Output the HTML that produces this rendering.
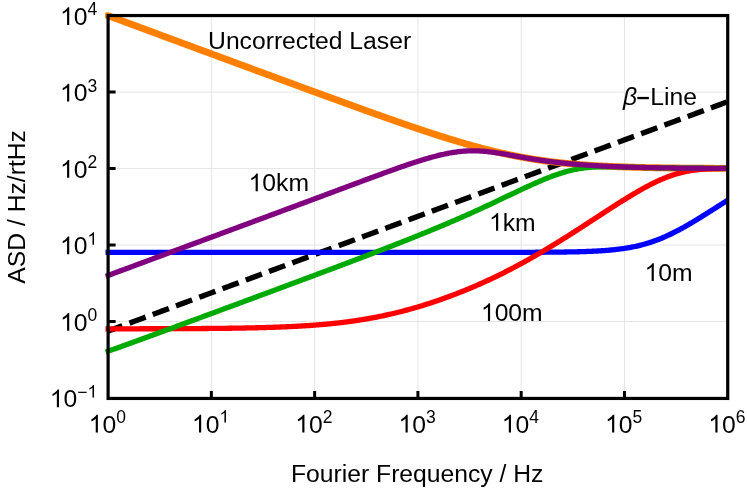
<!DOCTYPE html><html><head><meta charset="utf-8"><title>ASD plot</title>
<style>html,body{margin:0;padding:0;background:#fff;overflow:hidden}svg{display:block;will-change:transform}text{font-family:"Liberation Sans",sans-serif;fill:#000}</style></head><body>
<svg width="747" height="490" viewBox="0 0 747 490">
<rect width="747" height="490" fill="#fff"/>
<path d="M211.37,15.55V398.45M314.64,15.55V398.45M417.91,15.55V398.45M521.18,15.55V398.45M624.45,15.55V398.45M108.10,321.45H727.72M108.10,245.00H727.72M108.10,168.55H727.72M108.10,92.10H727.72" stroke="#e5e5e5" stroke-width="1" fill="none"/>
<defs><clipPath id="c"><rect x="105.1" y="12.2" width="622.62" height="392"/></clipPath></defs>
<g fill="none" stroke-linejoin="round" clip-path="url(#c)">
<path d="M108.10,331.02 L109.13,330.64 L110.17,330.26 L111.20,329.88 L112.23,329.49 L113.26,329.11 L114.30,328.73 L115.33,328.35 L116.36,327.97 L117.39,327.58 L118.43,327.20 L119.46,326.82 L120.49,326.44 L121.53,326.05 L122.56,325.67 L123.59,325.29 L124.62,324.91 L125.66,324.53 L126.69,324.14 L127.72,323.76 L128.75,323.38 L129.79,323.00 L130.82,322.61 L131.85,322.23 L132.88,321.85 L133.92,321.47 L134.95,321.09 L135.98,320.70 L137.02,320.32 L138.05,319.94 L139.08,319.56 L140.11,319.17 L141.15,318.79 L142.18,318.41 L143.21,318.03 L144.24,317.64 L145.28,317.26 L146.31,316.88 L147.34,316.50 L148.38,316.12 L149.41,315.73 L150.44,315.35 L151.47,314.97 L152.51,314.59 L153.54,314.20 L154.57,313.82 L155.60,313.44 L156.64,313.06 L157.67,312.68 L158.70,312.29 L159.73,311.91 L160.77,311.53 L161.80,311.15 L162.83,310.76 L163.87,310.38 L164.90,310.00 L165.93,309.62 L166.96,309.24 L168.00,308.85 L169.03,308.47 L170.06,308.09 L171.09,307.71 L172.13,307.32 L173.16,306.94 L174.19,306.56 L175.23,306.18 L176.26,305.80 L177.29,305.41 L178.32,305.03 L179.36,304.65 L180.39,304.27 L181.42,303.88 L182.45,303.50 L183.49,303.12 L184.52,302.74 L185.55,302.35 L186.59,301.97 L187.62,301.59 L188.65,301.21 L189.68,300.83 L190.72,300.44 L191.75,300.06 L192.78,299.68 L193.81,299.30 L194.85,298.91 L195.88,298.53 L196.91,298.15 L197.94,297.77 L198.98,297.39 L200.01,297.00 L201.04,296.62 L202.08,296.24 L203.11,295.86 L204.14,295.47 L205.17,295.09 L206.21,294.71 L207.24,294.33 L208.27,293.95 L209.30,293.56 L210.34,293.18 L211.37,292.80 L212.40,292.42 L213.44,292.03 L214.47,291.65 L215.50,291.27 L216.53,290.89 L217.57,290.51 L218.60,290.12 L219.63,289.74 L220.66,289.36 L221.70,288.98 L222.73,288.59 L223.76,288.21 L224.80,287.83 L225.83,287.45 L226.86,287.06 L227.89,286.68 L228.93,286.30 L229.96,285.92 L230.99,285.54 L232.02,285.15 L233.06,284.77 L234.09,284.39 L235.12,284.01 L236.15,283.62 L237.19,283.24 L238.22,282.86 L239.25,282.48 L240.29,282.10 L241.32,281.71 L242.35,281.33 L243.38,280.95 L244.42,280.57 L245.45,280.18 L246.48,279.80 L247.51,279.42 L248.55,279.04 L249.58,278.66 L250.61,278.27 L251.65,277.89 L252.68,277.51 L253.71,277.13 L254.74,276.74 L255.78,276.36 L256.81,275.98 L257.84,275.60 L258.87,275.22 L259.91,274.83 L260.94,274.45 L261.97,274.07 L263.00,273.69 L264.04,273.30 L265.07,272.92 L266.10,272.54 L267.14,272.16 L268.17,271.77 L269.20,271.39 L270.23,271.01 L271.27,270.63 L272.30,270.25 L273.33,269.86 L274.36,269.48 L275.40,269.10 L276.43,268.72 L277.46,268.33 L278.50,267.95 L279.53,267.57 L280.56,267.19 L281.59,266.81 L282.63,266.42 L283.66,266.04 L284.69,265.66 L285.72,265.28 L286.76,264.89 L287.79,264.51 L288.82,264.13 L289.86,263.75 L290.89,263.37 L291.92,262.98 L292.95,262.60 L293.99,262.22 L295.02,261.84 L296.05,261.45 L297.08,261.07 L298.12,260.69 L299.15,260.31 L300.18,259.93 L301.21,259.54 L302.25,259.16 L303.28,258.78 L304.31,258.40 L305.35,258.01 L306.38,257.63 L307.41,257.25 L308.44,256.87 L309.48,256.48 L310.51,256.10 L311.54,255.72 L312.57,255.34 L313.61,254.96 L314.64,254.57 L315.67,254.19 L316.71,253.81 L317.74,253.43 L318.77,253.04 L319.80,252.66 L320.84,252.28 L321.87,251.90 L322.90,251.52 L323.93,251.13 L324.97,250.75 L326.00,250.37 L327.03,249.99 L328.07,249.60 L329.10,249.22 L330.13,248.84 L331.16,248.46 L332.20,248.08 L333.23,247.69 L334.26,247.31 L335.29,246.93 L336.33,246.55 L337.36,246.16 L338.39,245.78 L339.42,245.40 L340.46,245.02 L341.49,244.64 L342.52,244.25 L343.56,243.87 L344.59,243.49 L345.62,243.11 L346.65,242.72 L347.69,242.34 L348.72,241.96 L349.75,241.58 L350.78,241.19 L351.82,240.81 L352.85,240.43 L353.88,240.05 L354.92,239.67 L355.95,239.28 L356.98,238.90 L358.01,238.52 L359.05,238.14 L360.08,237.75 L361.11,237.37 L362.14,236.99 L363.18,236.61 L364.21,236.23 L365.24,235.84 L366.27,235.46 L367.31,235.08 L368.34,234.70 L369.37,234.31 L370.41,233.93 L371.44,233.55 L372.47,233.17 L373.50,232.79 L374.54,232.40 L375.57,232.02 L376.60,231.64 L377.63,231.26 L378.67,230.87 L379.70,230.49 L380.73,230.11 L381.77,229.73 L382.80,229.35 L383.83,228.96 L384.86,228.58 L385.90,228.20 L386.93,227.82 L387.96,227.43 L388.99,227.05 L390.03,226.67 L391.06,226.29 L392.09,225.90 L393.13,225.52 L394.16,225.14 L395.19,224.76 L396.22,224.38 L397.26,223.99 L398.29,223.61 L399.32,223.23 L400.35,222.85 L401.39,222.46 L402.42,222.08 L403.45,221.70 L404.48,221.32 L405.52,220.94 L406.55,220.55 L407.58,220.17 L408.62,219.79 L409.65,219.41 L410.68,219.02 L411.71,218.64 L412.75,218.26 L413.78,217.88 L414.81,217.50 L415.84,217.11 L416.88,216.73 L417.91,216.35 L418.94,215.97 L419.98,215.58 L421.01,215.20 L422.04,214.82 L423.07,214.44 L424.11,214.06 L425.14,213.67 L426.17,213.29 L427.20,212.91 L428.24,212.53 L429.27,212.14 L430.30,211.76 L431.34,211.38 L432.37,211.00 L433.40,210.61 L434.43,210.23 L435.47,209.85 L436.50,209.47 L437.53,209.09 L438.56,208.70 L439.60,208.32 L440.63,207.94 L441.66,207.56 L442.69,207.17 L443.73,206.79 L444.76,206.41 L445.79,206.03 L446.83,205.65 L447.86,205.26 L448.89,204.88 L449.92,204.50 L450.96,204.12 L451.99,203.73 L453.02,203.35 L454.05,202.97 L455.09,202.59 L456.12,202.21 L457.15,201.82 L458.19,201.44 L459.22,201.06 L460.25,200.68 L461.28,200.29 L462.32,199.91 L463.35,199.53 L464.38,199.15 L465.41,198.77 L466.45,198.38 L467.48,198.00 L468.51,197.62 L469.54,197.24 L470.58,196.85 L471.61,196.47 L472.64,196.09 L473.68,195.71 L474.71,195.32 L475.74,194.94 L476.77,194.56 L477.81,194.18 L478.84,193.80 L479.87,193.41 L480.90,193.03 L481.94,192.65 L482.97,192.27 L484.00,191.88 L485.04,191.50 L486.07,191.12 L487.10,190.74 L488.13,190.36 L489.17,189.97 L490.20,189.59 L491.23,189.21 L492.26,188.83 L493.30,188.44 L494.33,188.06 L495.36,187.68 L496.40,187.30 L497.43,186.92 L498.46,186.53 L499.49,186.15 L500.53,185.77 L501.56,185.39 L502.59,185.00 L503.62,184.62 L504.66,184.24 L505.69,183.86 L506.72,183.48 L507.75,183.09 L508.79,182.71 L509.82,182.33 L510.85,181.95 L511.89,181.56 L512.92,181.18 L513.95,180.80 L514.98,180.42 L516.02,180.03 L517.05,179.65 L518.08,179.27 L519.11,178.89 L520.15,178.51 L521.18,178.12 L522.21,177.74 L523.25,177.36 L524.28,176.98 L525.31,176.59 L526.34,176.21 L527.38,175.83 L528.41,175.45 L529.44,175.07 L530.47,174.68 L531.51,174.30 L532.54,173.92 L533.57,173.54 L534.61,173.15 L535.64,172.77 L536.67,172.39 L537.70,172.01 L538.74,171.63 L539.77,171.24 L540.80,170.86 L541.83,170.48 L542.87,170.10 L543.90,169.71 L544.93,169.33 L545.96,168.95 L547.00,168.57 L548.03,168.19 L549.06,167.80 L550.10,167.42 L551.13,167.04 L552.16,166.66 L553.19,166.27 L554.23,165.89 L555.26,165.51 L556.29,165.13 L557.32,164.74 L558.36,164.36 L559.39,163.98 L560.42,163.60 L561.46,163.22 L562.49,162.83 L563.52,162.45 L564.55,162.07 L565.59,161.69 L566.62,161.30 L567.65,160.92 L568.68,160.54 L569.72,160.16 L570.75,159.78 L571.78,159.39 L572.81,159.01 L573.85,158.63 L574.88,158.25 L575.91,157.86 L576.95,157.48 L577.98,157.10 L579.01,156.72 L580.04,156.34 L581.08,155.95 L582.11,155.57 L583.14,155.19 L584.17,154.81 L585.21,154.42 L586.24,154.04 L587.27,153.66 L588.31,153.28 L589.34,152.90 L590.37,152.51 L591.40,152.13 L592.44,151.75 L593.47,151.37 L594.50,150.98 L595.53,150.60 L596.57,150.22 L597.60,149.84 L598.63,149.45 L599.67,149.07 L600.70,148.69 L601.73,148.31 L602.76,147.93 L603.80,147.54 L604.83,147.16 L605.86,146.78 L606.89,146.40 L607.93,146.01 L608.96,145.63 L609.99,145.25 L611.02,144.87 L612.06,144.49 L613.09,144.10 L614.12,143.72 L615.16,143.34 L616.19,142.96 L617.22,142.57 L618.25,142.19 L619.29,141.81 L620.32,141.43 L621.35,141.05 L622.38,140.66 L623.42,140.28 L624.45,139.90 L625.48,139.52 L626.52,139.13 L627.55,138.75 L628.58,138.37 L629.61,137.99 L630.65,137.61 L631.68,137.22 L632.71,136.84 L633.74,136.46 L634.78,136.08 L635.81,135.69 L636.84,135.31 L637.88,134.93 L638.91,134.55 L639.94,134.16 L640.97,133.78 L642.01,133.40 L643.04,133.02 L644.07,132.64 L645.10,132.25 L646.14,131.87 L647.17,131.49 L648.20,131.11 L649.23,130.72 L650.27,130.34 L651.30,129.96 L652.33,129.58 L653.37,129.20 L654.40,128.81 L655.43,128.43 L656.46,128.05 L657.50,127.67 L658.53,127.28 L659.56,126.90 L660.59,126.52 L661.63,126.14 L662.66,125.76 L663.69,125.37 L664.73,124.99 L665.76,124.61 L666.79,124.23 L667.82,123.84 L668.86,123.46 L669.89,123.08 L670.92,122.70 L671.95,122.32 L672.99,121.93 L674.02,121.55 L675.05,121.17 L676.09,120.79 L677.12,120.40 L678.15,120.02 L679.18,119.64 L680.22,119.26 L681.25,118.87 L682.28,118.49 L683.31,118.11 L684.35,117.73 L685.38,117.35 L686.41,116.96 L687.44,116.58 L688.48,116.20 L689.51,115.82 L690.54,115.43 L691.58,115.05 L692.61,114.67 L693.64,114.29 L694.67,113.91 L695.71,113.52 L696.74,113.14 L697.77,112.76 L698.80,112.38 L699.84,111.99 L700.87,111.61 L701.90,111.23 L702.94,110.85 L703.97,110.47 L705.00,110.08 L706.03,109.70 L707.07,109.32 L708.10,108.94 L709.13,108.55 L710.16,108.17 L711.20,107.79 L712.23,107.41 L713.26,107.03 L714.29,106.64 L715.33,106.26 L716.36,105.88 L717.39,105.50 L718.43,105.11 L719.46,104.73 L720.49,104.35 L721.52,103.97 L722.56,103.58 L723.59,103.20 L724.62,102.82 L725.65,102.44 L726.69,102.06 L727.72,101.67" stroke="#000000" stroke-width="5.4" stroke-dasharray="17.2 7.6" stroke-dashoffset="2"/>
<path d="M108.10,15.65 L109.13,16.03 L110.17,16.41 L111.20,16.79 L112.23,17.18 L113.26,17.56 L114.30,17.94 L115.33,18.32 L116.36,18.71 L117.39,19.09 L118.43,19.47 L119.46,19.85 L120.49,20.23 L121.53,20.62 L122.56,21.00 L123.59,21.38 L124.62,21.76 L125.66,22.15 L126.69,22.53 L127.72,22.91 L128.75,23.29 L129.79,23.67 L130.82,24.06 L131.85,24.44 L132.88,24.82 L133.92,25.20 L134.95,25.59 L135.98,25.97 L137.02,26.35 L138.05,26.73 L139.08,27.11 L140.11,27.50 L141.15,27.88 L142.18,28.26 L143.21,28.64 L144.24,29.03 L145.28,29.41 L146.31,29.79 L147.34,30.17 L148.38,30.55 L149.41,30.94 L150.44,31.32 L151.47,31.70 L152.51,32.08 L153.54,32.46 L154.57,32.85 L155.60,33.23 L156.64,33.61 L157.67,33.99 L158.70,34.38 L159.73,34.76 L160.77,35.14 L161.80,35.52 L162.83,35.90 L163.87,36.29 L164.90,36.67 L165.93,37.05 L166.96,37.43 L168.00,37.81 L169.03,38.20 L170.06,38.58 L171.09,38.96 L172.13,39.34 L173.16,39.72 L174.19,40.11 L175.23,40.49 L176.26,40.87 L177.29,41.25 L178.32,41.64 L179.36,42.02 L180.39,42.40 L181.42,42.78 L182.45,43.16 L183.49,43.55 L184.52,43.93 L185.55,44.31 L186.59,44.69 L187.62,45.07 L188.65,45.46 L189.68,45.84 L190.72,46.22 L191.75,46.60 L192.78,46.98 L193.81,47.37 L194.85,47.75 L195.88,48.13 L196.91,48.51 L197.94,48.89 L198.98,49.28 L200.01,49.66 L201.04,50.04 L202.08,50.42 L203.11,50.80 L204.14,51.19 L205.17,51.57 L206.21,51.95 L207.24,52.33 L208.27,52.71 L209.30,53.09 L210.34,53.48 L211.37,53.86 L212.40,54.24 L213.44,54.62 L214.47,55.00 L215.50,55.39 L216.53,55.77 L217.57,56.15 L218.60,56.53 L219.63,56.91 L220.66,57.29 L221.70,57.68 L222.73,58.06 L223.76,58.44 L224.80,58.82 L225.83,59.20 L226.86,59.59 L227.89,59.97 L228.93,60.35 L229.96,60.73 L230.99,61.11 L232.02,61.49 L233.06,61.88 L234.09,62.26 L235.12,62.64 L236.15,63.02 L237.19,63.40 L238.22,63.78 L239.25,64.16 L240.29,64.55 L241.32,64.93 L242.35,65.31 L243.38,65.69 L244.42,66.07 L245.45,66.45 L246.48,66.84 L247.51,67.22 L248.55,67.60 L249.58,67.98 L250.61,68.36 L251.65,68.74 L252.68,69.12 L253.71,69.50 L254.74,69.89 L255.78,70.27 L256.81,70.65 L257.84,71.03 L258.87,71.41 L259.91,71.79 L260.94,72.17 L261.97,72.55 L263.00,72.94 L264.04,73.32 L265.07,73.70 L266.10,74.08 L267.14,74.46 L268.17,74.84 L269.20,75.22 L270.23,75.60 L271.27,75.98 L272.30,76.36 L273.33,76.74 L274.36,77.12 L275.40,77.51 L276.43,77.89 L277.46,78.27 L278.50,78.65 L279.53,79.03 L280.56,79.41 L281.59,79.79 L282.63,80.17 L283.66,80.55 L284.69,80.93 L285.72,81.31 L286.76,81.69 L287.79,82.07 L288.82,82.45 L289.86,82.83 L290.89,83.21 L291.92,83.59 L292.95,83.97 L293.99,84.35 L295.02,84.73 L296.05,85.11 L297.08,85.49 L298.12,85.87 L299.15,86.25 L300.18,86.63 L301.21,87.01 L302.25,87.39 L303.28,87.77 L304.31,88.15 L305.35,88.53 L306.38,88.90 L307.41,89.28 L308.44,89.66 L309.48,90.04 L310.51,90.42 L311.54,90.80 L312.57,91.18 L313.61,91.56 L314.64,91.93 L315.67,92.31 L316.71,92.69 L317.74,93.07 L318.77,93.45 L319.80,93.83 L320.84,94.20 L321.87,94.58 L322.90,94.96 L323.93,95.34 L324.97,95.71 L326.00,96.09 L327.03,96.47 L328.07,96.85 L329.10,97.22 L330.13,97.60 L331.16,97.98 L332.20,98.35 L333.23,98.73 L334.26,99.11 L335.29,99.48 L336.33,99.86 L337.36,100.24 L338.39,100.61 L339.42,100.99 L340.46,101.36 L341.49,101.74 L342.52,102.11 L343.56,102.49 L344.59,102.86 L345.62,103.24 L346.65,103.61 L347.69,103.99 L348.72,104.36 L349.75,104.74 L350.78,105.11 L351.82,105.48 L352.85,105.86 L353.88,106.23 L354.92,106.61 L355.95,106.98 L356.98,107.35 L358.01,107.72 L359.05,108.10 L360.08,108.47 L361.11,108.84 L362.14,109.21 L363.18,109.58 L364.21,109.95 L365.24,110.33 L366.27,110.70 L367.31,111.07 L368.34,111.44 L369.37,111.81 L370.41,112.18 L371.44,112.54 L372.47,112.91 L373.50,113.28 L374.54,113.65 L375.57,114.02 L376.60,114.39 L377.63,114.75 L378.67,115.12 L379.70,115.49 L380.73,115.85 L381.77,116.22 L382.80,116.59 L383.83,116.95 L384.86,117.32 L385.90,117.68 L386.93,118.05 L387.96,118.41 L388.99,118.77 L390.03,119.14 L391.06,119.50 L392.09,119.86 L393.13,120.22 L394.16,120.58 L395.19,120.94 L396.22,121.30 L397.26,121.66 L398.29,122.02 L399.32,122.38 L400.35,122.74 L401.39,123.10 L402.42,123.46 L403.45,123.81 L404.48,124.17 L405.52,124.52 L406.55,124.88 L407.58,125.23 L408.62,125.59 L409.65,125.94 L410.68,126.29 L411.71,126.65 L412.75,127.00 L413.78,127.35 L414.81,127.70 L415.84,128.05 L416.88,128.39 L417.91,128.74 L418.94,129.09 L419.98,129.44 L421.01,129.78 L422.04,130.13 L423.07,130.47 L424.11,130.81 L425.14,131.16 L426.17,131.50 L427.20,131.84 L428.24,132.18 L429.27,132.52 L430.30,132.86 L431.34,133.19 L432.37,133.53 L433.40,133.87 L434.43,134.20 L435.47,134.53 L436.50,134.87 L437.53,135.20 L438.56,135.53 L439.60,135.86 L440.63,136.19 L441.66,136.51 L442.69,136.84 L443.73,137.16 L444.76,137.49 L445.79,137.81 L446.83,138.13 L447.86,138.45 L448.89,138.77 L449.92,139.09 L450.96,139.41 L451.99,139.72 L453.02,140.04 L454.05,140.35 L455.09,140.66 L456.12,140.97 L457.15,141.28 L458.19,141.59 L459.22,141.89 L460.25,142.20 L461.28,142.50 L462.32,142.80 L463.35,143.11 L464.38,143.40 L465.41,143.70 L466.45,144.00 L467.48,144.29 L468.51,144.58 L469.54,144.88 L470.58,145.17 L471.61,145.45 L472.64,145.74 L473.68,146.02 L474.71,146.31 L475.74,146.59 L476.77,146.87 L477.81,147.15 L478.84,147.42 L479.87,147.70 L480.90,147.97 L481.94,148.24 L482.97,148.51 L484.00,148.78 L485.04,149.04 L486.07,149.30 L487.10,149.57 L488.13,149.83 L489.17,150.08 L490.20,150.34 L491.23,150.59 L492.26,150.84 L493.30,151.09 L494.33,151.34 L495.36,151.59 L496.40,151.83 L497.43,152.07 L498.46,152.31 L499.49,152.55 L500.53,152.78 L501.56,153.02 L502.59,153.25 L503.62,153.48 L504.66,153.71 L505.69,153.93 L506.72,154.15 L507.75,154.37 L508.79,154.59 L509.82,154.81 L510.85,155.02 L511.89,155.23 L512.92,155.44 L513.95,155.65 L514.98,155.86 L516.02,156.06 L517.05,156.26 L518.08,156.46 L519.11,156.66 L520.15,156.85 L521.18,157.04 L522.21,157.23 L523.25,157.42 L524.28,157.61 L525.31,157.79 L526.34,157.97 L527.38,158.15 L528.41,158.33 L529.44,158.50 L530.47,158.67 L531.51,158.84 L532.54,159.01 L533.57,159.18 L534.61,159.34 L535.64,159.50 L536.67,159.66 L537.70,159.82 L538.74,159.98 L539.77,160.13 L540.80,160.28 L541.83,160.43 L542.87,160.58 L543.90,160.72 L544.93,160.86 L545.96,161.00 L547.00,161.14 L548.03,161.28 L549.06,161.41 L550.10,161.55 L551.13,161.68 L552.16,161.81 L553.19,161.93 L554.23,162.06 L555.26,162.18 L556.29,162.30 L557.32,162.42 L558.36,162.54 L559.39,162.65 L560.42,162.77 L561.46,162.88 L562.49,162.99 L563.52,163.09 L564.55,163.20 L565.59,163.31 L566.62,163.41 L567.65,163.51 L568.68,163.61 L569.72,163.71 L570.75,163.80 L571.78,163.90 L572.81,163.99 L573.85,164.08 L574.88,164.17 L575.91,164.26 L576.95,164.34 L577.98,164.43 L579.01,164.51 L580.04,164.59 L581.08,164.67 L582.11,164.75 L583.14,164.83 L584.17,164.91 L585.21,164.98 L586.24,165.05 L587.27,165.13 L588.31,165.20 L589.34,165.27 L590.37,165.33 L591.40,165.40 L592.44,165.47 L593.47,165.53 L594.50,165.59 L595.53,165.65 L596.57,165.72 L597.60,165.77 L598.63,165.83 L599.67,165.89 L600.70,165.95 L601.73,166.00 L602.76,166.05 L603.80,166.11 L604.83,166.16 L605.86,166.21 L606.89,166.26 L607.93,166.31 L608.96,166.36 L609.99,166.40 L611.02,166.45 L612.06,166.49 L613.09,166.54 L614.12,166.58 L615.16,166.62 L616.19,166.67 L617.22,166.71 L618.25,166.75 L619.29,166.78 L620.32,166.82 L621.35,166.86 L622.38,166.90 L623.42,166.93 L624.45,166.97 L625.48,167.00 L626.52,167.04 L627.55,167.07 L628.58,167.10 L629.61,167.13 L630.65,167.16 L631.68,167.19 L632.71,167.22 L633.74,167.25 L634.78,167.28 L635.81,167.31 L636.84,167.34 L637.88,167.36 L638.91,167.39 L639.94,167.41 L640.97,167.44 L642.01,167.46 L643.04,167.49 L644.07,167.51 L645.10,167.53 L646.14,167.56 L647.17,167.58 L648.20,167.60 L649.23,167.62 L650.27,167.64 L651.30,167.66 L652.33,167.68 L653.37,167.70 L654.40,167.72 L655.43,167.74 L656.46,167.76 L657.50,167.77 L658.53,167.79 L659.56,167.81 L660.59,167.82 L661.63,167.84 L662.66,167.86 L663.69,167.87 L664.73,167.89 L665.76,167.90 L666.79,167.92 L667.82,167.93 L668.86,167.94 L669.89,167.96 L670.92,167.97 L671.95,167.98 L672.99,168.00 L674.02,168.01 L675.05,168.02 L676.09,168.03 L677.12,168.04 L678.15,168.06 L679.18,168.07 L680.22,168.08 L681.25,168.09 L682.28,168.10 L683.31,168.11 L684.35,168.12 L685.38,168.13 L686.41,168.14 L687.44,168.15 L688.48,168.16 L689.51,168.17 L690.54,168.17 L691.58,168.18 L692.61,168.19 L693.64,168.20 L694.67,168.21 L695.71,168.21 L696.74,168.22 L697.77,168.23 L698.80,168.24 L699.84,168.24 L700.87,168.25 L701.90,168.26 L702.94,168.26 L703.97,168.27 L705.00,168.28 L706.03,168.28 L707.07,168.29 L708.10,168.29 L709.13,168.30 L710.16,168.31 L711.20,168.31 L712.23,168.32 L713.26,168.32 L714.29,168.33 L715.33,168.33 L716.36,168.34 L717.39,168.34 L718.43,168.35 L719.46,168.35 L720.49,168.36 L721.52,168.36 L722.56,168.36 L723.59,168.37 L724.62,168.37 L725.65,168.38 L726.69,168.38 L727.72,168.38" stroke="#ff8000" stroke-width="6.9" stroke-linecap="square"/>
<path d="M108.10,252.41 L109.13,252.41 L110.17,252.41 L111.20,252.41 L112.23,252.41 L113.26,252.41 L114.30,252.41 L115.33,252.41 L116.36,252.41 L117.39,252.41 L118.43,252.41 L119.46,252.41 L120.49,252.41 L121.53,252.41 L122.56,252.41 L123.59,252.41 L124.62,252.41 L125.66,252.41 L126.69,252.41 L127.72,252.41 L128.75,252.41 L129.79,252.41 L130.82,252.41 L131.85,252.41 L132.88,252.41 L133.92,252.41 L134.95,252.41 L135.98,252.41 L137.02,252.41 L138.05,252.41 L139.08,252.41 L140.11,252.41 L141.15,252.41 L142.18,252.41 L143.21,252.41 L144.24,252.41 L145.28,252.41 L146.31,252.41 L147.34,252.41 L148.38,252.41 L149.41,252.41 L150.44,252.41 L151.47,252.41 L152.51,252.41 L153.54,252.41 L154.57,252.41 L155.60,252.41 L156.64,252.41 L157.67,252.41 L158.70,252.41 L159.73,252.41 L160.77,252.41 L161.80,252.41 L162.83,252.41 L163.87,252.41 L164.90,252.41 L165.93,252.41 L166.96,252.41 L168.00,252.41 L169.03,252.41 L170.06,252.41 L171.09,252.41 L172.13,252.41 L173.16,252.41 L174.19,252.41 L175.23,252.41 L176.26,252.41 L177.29,252.41 L178.32,252.41 L179.36,252.41 L180.39,252.41 L181.42,252.41 L182.45,252.41 L183.49,252.41 L184.52,252.41 L185.55,252.41 L186.59,252.41 L187.62,252.41 L188.65,252.41 L189.68,252.41 L190.72,252.41 L191.75,252.41 L192.78,252.41 L193.81,252.41 L194.85,252.41 L195.88,252.41 L196.91,252.41 L197.94,252.41 L198.98,252.41 L200.01,252.41 L201.04,252.41 L202.08,252.41 L203.11,252.41 L204.14,252.41 L205.17,252.41 L206.21,252.41 L207.24,252.41 L208.27,252.41 L209.30,252.41 L210.34,252.41 L211.37,252.41 L212.40,252.41 L213.44,252.41 L214.47,252.41 L215.50,252.41 L216.53,252.41 L217.57,252.41 L218.60,252.41 L219.63,252.41 L220.66,252.41 L221.70,252.41 L222.73,252.41 L223.76,252.41 L224.80,252.41 L225.83,252.41 L226.86,252.41 L227.89,252.41 L228.93,252.41 L229.96,252.41 L230.99,252.41 L232.02,252.41 L233.06,252.41 L234.09,252.41 L235.12,252.41 L236.15,252.41 L237.19,252.41 L238.22,252.41 L239.25,252.41 L240.29,252.41 L241.32,252.41 L242.35,252.41 L243.38,252.41 L244.42,252.41 L245.45,252.41 L246.48,252.41 L247.51,252.41 L248.55,252.41 L249.58,252.41 L250.61,252.41 L251.65,252.41 L252.68,252.41 L253.71,252.41 L254.74,252.41 L255.78,252.41 L256.81,252.41 L257.84,252.41 L258.87,252.41 L259.91,252.41 L260.94,252.41 L261.97,252.41 L263.00,252.41 L264.04,252.41 L265.07,252.41 L266.10,252.41 L267.14,252.41 L268.17,252.41 L269.20,252.41 L270.23,252.41 L271.27,252.41 L272.30,252.41 L273.33,252.41 L274.36,252.41 L275.40,252.41 L276.43,252.41 L277.46,252.41 L278.50,252.41 L279.53,252.41 L280.56,252.41 L281.59,252.41 L282.63,252.41 L283.66,252.41 L284.69,252.41 L285.72,252.41 L286.76,252.41 L287.79,252.41 L288.82,252.41 L289.86,252.41 L290.89,252.41 L291.92,252.41 L292.95,252.41 L293.99,252.41 L295.02,252.41 L296.05,252.41 L297.08,252.41 L298.12,252.41 L299.15,252.41 L300.18,252.41 L301.21,252.41 L302.25,252.41 L303.28,252.41 L304.31,252.41 L305.35,252.41 L306.38,252.41 L307.41,252.41 L308.44,252.41 L309.48,252.41 L310.51,252.41 L311.54,252.41 L312.57,252.41 L313.61,252.41 L314.64,252.41 L315.67,252.41 L316.71,252.41 L317.74,252.41 L318.77,252.41 L319.80,252.41 L320.84,252.41 L321.87,252.41 L322.90,252.41 L323.93,252.41 L324.97,252.41 L326.00,252.41 L327.03,252.41 L328.07,252.41 L329.10,252.41 L330.13,252.41 L331.16,252.41 L332.20,252.41 L333.23,252.41 L334.26,252.41 L335.29,252.41 L336.33,252.41 L337.36,252.41 L338.39,252.41 L339.42,252.41 L340.46,252.41 L341.49,252.41 L342.52,252.41 L343.56,252.41 L344.59,252.41 L345.62,252.41 L346.65,252.41 L347.69,252.41 L348.72,252.41 L349.75,252.41 L350.78,252.41 L351.82,252.41 L352.85,252.41 L353.88,252.41 L354.92,252.41 L355.95,252.41 L356.98,252.41 L358.01,252.41 L359.05,252.41 L360.08,252.41 L361.11,252.41 L362.14,252.41 L363.18,252.41 L364.21,252.41 L365.24,252.41 L366.27,252.41 L367.31,252.41 L368.34,252.41 L369.37,252.41 L370.41,252.41 L371.44,252.41 L372.47,252.41 L373.50,252.41 L374.54,252.41 L375.57,252.41 L376.60,252.41 L377.63,252.41 L378.67,252.41 L379.70,252.41 L380.73,252.41 L381.77,252.41 L382.80,252.41 L383.83,252.41 L384.86,252.41 L385.90,252.41 L386.93,252.41 L387.96,252.41 L388.99,252.41 L390.03,252.41 L391.06,252.41 L392.09,252.41 L393.13,252.41 L394.16,252.41 L395.19,252.41 L396.22,252.41 L397.26,252.41 L398.29,252.41 L399.32,252.41 L400.35,252.41 L401.39,252.41 L402.42,252.41 L403.45,252.41 L404.48,252.41 L405.52,252.41 L406.55,252.41 L407.58,252.41 L408.62,252.41 L409.65,252.41 L410.68,252.40 L411.71,252.40 L412.75,252.40 L413.78,252.40 L414.81,252.40 L415.84,252.40 L416.88,252.40 L417.91,252.40 L418.94,252.40 L419.98,252.40 L421.01,252.40 L422.04,252.40 L423.07,252.40 L424.11,252.40 L425.14,252.40 L426.17,252.40 L427.20,252.40 L428.24,252.40 L429.27,252.40 L430.30,252.40 L431.34,252.40 L432.37,252.40 L433.40,252.40 L434.43,252.40 L435.47,252.40 L436.50,252.40 L437.53,252.40 L438.56,252.40 L439.60,252.40 L440.63,252.40 L441.66,252.40 L442.69,252.40 L443.73,252.40 L444.76,252.40 L445.79,252.40 L446.83,252.40 L447.86,252.40 L448.89,252.40 L449.92,252.40 L450.96,252.40 L451.99,252.40 L453.02,252.40 L454.05,252.40 L455.09,252.40 L456.12,252.40 L457.15,252.40 L458.19,252.40 L459.22,252.40 L460.25,252.40 L461.28,252.39 L462.32,252.39 L463.35,252.39 L464.38,252.39 L465.41,252.39 L466.45,252.39 L467.48,252.39 L468.51,252.39 L469.54,252.39 L470.58,252.39 L471.61,252.39 L472.64,252.39 L473.68,252.39 L474.71,252.39 L475.74,252.39 L476.77,252.39 L477.81,252.39 L478.84,252.39 L479.87,252.39 L480.90,252.38 L481.94,252.38 L482.97,252.38 L484.00,252.38 L485.04,252.38 L486.07,252.38 L487.10,252.38 L488.13,252.38 L489.17,252.38 L490.20,252.38 L491.23,252.38 L492.26,252.38 L493.30,252.37 L494.33,252.37 L495.36,252.37 L496.40,252.37 L497.43,252.37 L498.46,252.37 L499.49,252.37 L500.53,252.37 L501.56,252.36 L502.59,252.36 L503.62,252.36 L504.66,252.36 L505.69,252.36 L506.72,252.36 L507.75,252.36 L508.79,252.35 L509.82,252.35 L510.85,252.35 L511.89,252.35 L512.92,252.35 L513.95,252.34 L514.98,252.34 L516.02,252.34 L517.05,252.34 L518.08,252.33 L519.11,252.33 L520.15,252.33 L521.18,252.33 L522.21,252.32 L523.25,252.32 L524.28,252.32 L525.31,252.31 L526.34,252.31 L527.38,252.31 L528.41,252.30 L529.44,252.30 L530.47,252.30 L531.51,252.29 L532.54,252.29 L533.57,252.28 L534.61,252.28 L535.64,252.27 L536.67,252.27 L537.70,252.26 L538.74,252.26 L539.77,252.25 L540.80,252.25 L541.83,252.24 L542.87,252.23 L543.90,252.23 L544.93,252.22 L545.96,252.21 L547.00,252.20 L548.03,252.20 L549.06,252.19 L550.10,252.18 L551.13,252.17 L552.16,252.16 L553.19,252.15 L554.23,252.14 L555.26,252.13 L556.29,252.12 L557.32,252.11 L558.36,252.10 L559.39,252.09 L560.42,252.07 L561.46,252.06 L562.49,252.05 L563.52,252.03 L564.55,252.02 L565.59,252.00 L566.62,251.99 L567.65,251.97 L568.68,251.95 L569.72,251.93 L570.75,251.91 L571.78,251.89 L572.81,251.87 L573.85,251.85 L574.88,251.83 L575.91,251.80 L576.95,251.78 L577.98,251.75 L579.01,251.73 L580.04,251.70 L581.08,251.67 L582.11,251.64 L583.14,251.61 L584.17,251.57 L585.21,251.54 L586.24,251.50 L587.27,251.46 L588.31,251.43 L589.34,251.38 L590.37,251.34 L591.40,251.30 L592.44,251.25 L593.47,251.20 L594.50,251.15 L595.53,251.10 L596.57,251.05 L597.60,250.99 L598.63,250.93 L599.67,250.87 L600.70,250.81 L601.73,250.74 L602.76,250.67 L603.80,250.60 L604.83,250.52 L605.86,250.45 L606.89,250.36 L607.93,250.28 L608.96,250.19 L609.99,250.10 L611.02,250.01 L612.06,249.91 L613.09,249.80 L614.12,249.70 L615.16,249.59 L616.19,249.47 L617.22,249.35 L618.25,249.23 L619.29,249.10 L620.32,248.97 L621.35,248.83 L622.38,248.68 L623.42,248.54 L624.45,248.38 L625.48,248.22 L626.52,248.06 L627.55,247.88 L628.58,247.71 L629.61,247.52 L630.65,247.33 L631.68,247.14 L632.71,246.94 L633.74,246.73 L634.78,246.51 L635.81,246.29 L636.84,246.06 L637.88,245.82 L638.91,245.57 L639.94,245.32 L640.97,245.06 L642.01,244.79 L643.04,244.52 L644.07,244.24 L645.10,243.95 L646.14,243.65 L647.17,243.34 L648.20,243.02 L649.23,242.70 L650.27,242.37 L651.30,242.03 L652.33,241.68 L653.37,241.32 L654.40,240.96 L655.43,240.58 L656.46,240.20 L657.50,239.81 L658.53,239.41 L659.56,239.01 L660.59,238.59 L661.63,238.17 L662.66,237.73 L663.69,237.29 L664.73,236.85 L665.76,236.39 L666.79,235.93 L667.82,235.46 L668.86,234.98 L669.89,234.49 L670.92,234.00 L671.95,233.50 L672.99,232.99 L674.02,232.47 L675.05,231.95 L676.09,231.42 L677.12,230.89 L678.15,230.34 L679.18,229.80 L680.22,229.24 L681.25,228.68 L682.28,228.12 L683.31,227.55 L684.35,226.97 L685.38,226.39 L686.41,225.80 L687.44,225.21 L688.48,224.61 L689.51,224.01 L690.54,223.41 L691.58,222.80 L692.61,222.18 L693.64,221.57 L694.67,220.94 L695.71,220.32 L696.74,219.69 L697.77,219.06 L698.80,218.43 L699.84,217.79 L700.87,217.16 L701.90,216.52 L702.94,215.87 L703.97,215.23 L705.00,214.58 L706.03,213.93 L707.07,213.28 L708.10,212.63 L709.13,211.98 L710.16,211.33 L711.20,210.67 L712.23,210.02 L713.26,209.36 L714.29,208.71 L715.33,208.05 L716.36,207.40 L717.39,206.74 L718.43,206.08 L719.46,205.43 L720.49,204.78 L721.52,204.12 L722.56,203.47 L723.59,202.82 L724.62,202.17 L725.65,201.52 L726.69,200.88 L727.72,200.23" stroke="#0000ff" stroke-width="5.3" stroke-linecap="square"/>
<path d="M108.10,328.82 L109.13,328.82 L110.17,328.82 L111.20,328.81 L112.23,328.81 L113.26,328.81 L114.30,328.81 L115.33,328.81 L116.36,328.81 L117.39,328.81 L118.43,328.81 L119.46,328.81 L120.49,328.80 L121.53,328.80 L122.56,328.80 L123.59,328.80 L124.62,328.80 L125.66,328.80 L126.69,328.80 L127.72,328.79 L128.75,328.79 L129.79,328.79 L130.82,328.79 L131.85,328.79 L132.88,328.79 L133.92,328.79 L134.95,328.78 L135.98,328.78 L137.02,328.78 L138.05,328.78 L139.08,328.78 L140.11,328.77 L141.15,328.77 L142.18,328.77 L143.21,328.77 L144.24,328.77 L145.28,328.76 L146.31,328.76 L147.34,328.76 L148.38,328.76 L149.41,328.75 L150.44,328.75 L151.47,328.75 L152.51,328.75 L153.54,328.74 L154.57,328.74 L155.60,328.74 L156.64,328.74 L157.67,328.73 L158.70,328.73 L159.73,328.73 L160.77,328.72 L161.80,328.72 L162.83,328.72 L163.87,328.72 L164.90,328.71 L165.93,328.71 L166.96,328.71 L168.00,328.70 L169.03,328.70 L170.06,328.69 L171.09,328.69 L172.13,328.69 L173.16,328.68 L174.19,328.68 L175.23,328.67 L176.26,328.67 L177.29,328.67 L178.32,328.66 L179.36,328.66 L180.39,328.65 L181.42,328.65 L182.45,328.64 L183.49,328.64 L184.52,328.63 L185.55,328.63 L186.59,328.62 L187.62,328.62 L188.65,328.61 L189.68,328.60 L190.72,328.60 L191.75,328.59 L192.78,328.59 L193.81,328.58 L194.85,328.57 L195.88,328.57 L196.91,328.56 L197.94,328.55 L198.98,328.55 L200.01,328.54 L201.04,328.53 L202.08,328.52 L203.11,328.52 L204.14,328.51 L205.17,328.50 L206.21,328.49 L207.24,328.48 L208.27,328.48 L209.30,328.47 L210.34,328.46 L211.37,328.45 L212.40,328.44 L213.44,328.43 L214.47,328.42 L215.50,328.41 L216.53,328.40 L217.57,328.39 L218.60,328.38 L219.63,328.37 L220.66,328.36 L221.70,328.34 L222.73,328.33 L223.76,328.32 L224.80,328.31 L225.83,328.29 L226.86,328.28 L227.89,328.27 L228.93,328.26 L229.96,328.24 L230.99,328.23 L232.02,328.21 L233.06,328.20 L234.09,328.18 L235.12,328.17 L236.15,328.15 L237.19,328.14 L238.22,328.12 L239.25,328.10 L240.29,328.08 L241.32,328.07 L242.35,328.05 L243.38,328.03 L244.42,328.01 L245.45,327.99 L246.48,327.97 L247.51,327.95 L248.55,327.93 L249.58,327.91 L250.61,327.89 L251.65,327.87 L252.68,327.85 L253.71,327.82 L254.74,327.80 L255.78,327.77 L256.81,327.75 L257.84,327.73 L258.87,327.70 L259.91,327.67 L260.94,327.65 L261.97,327.62 L263.00,327.59 L264.04,327.56 L265.07,327.53 L266.10,327.50 L267.14,327.47 L268.17,327.44 L269.20,327.41 L270.23,327.38 L271.27,327.35 L272.30,327.31 L273.33,327.28 L274.36,327.24 L275.40,327.21 L276.43,327.17 L277.46,327.13 L278.50,327.09 L279.53,327.05 L280.56,327.01 L281.59,326.97 L282.63,326.93 L283.66,326.89 L284.69,326.85 L285.72,326.80 L286.76,326.76 L287.79,326.71 L288.82,326.66 L289.86,326.62 L290.89,326.57 L291.92,326.52 L292.95,326.47 L293.99,326.41 L295.02,326.36 L296.05,326.31 L297.08,326.25 L298.12,326.19 L299.15,326.14 L300.18,326.08 L301.21,326.02 L302.25,325.96 L303.28,325.89 L304.31,325.83 L305.35,325.76 L306.38,325.70 L307.41,325.63 L308.44,325.56 L309.48,325.49 L310.51,325.42 L311.54,325.35 L312.57,325.27 L313.61,325.20 L314.64,325.12 L315.67,325.04 L316.71,324.96 L317.74,324.88 L318.77,324.80 L319.80,324.71 L320.84,324.63 L321.87,324.54 L322.90,324.45 L323.93,324.36 L324.97,324.27 L326.00,324.17 L327.03,324.08 L328.07,323.98 L329.10,323.88 L330.13,323.78 L331.16,323.67 L332.20,323.57 L333.23,323.46 L334.26,323.35 L335.29,323.24 L336.33,323.13 L337.36,323.02 L338.39,322.90 L339.42,322.78 L340.46,322.66 L341.49,322.54 L342.52,322.42 L343.56,322.29 L344.59,322.16 L345.62,322.03 L346.65,321.90 L347.69,321.76 L348.72,321.63 L349.75,321.49 L350.78,321.35 L351.82,321.20 L352.85,321.06 L353.88,320.91 L354.92,320.76 L355.95,320.61 L356.98,320.45 L358.01,320.30 L359.05,320.14 L360.08,319.98 L361.11,319.81 L362.14,319.65 L363.18,319.48 L364.21,319.31 L365.24,319.13 L366.27,318.96 L367.31,318.78 L368.34,318.60 L369.37,318.42 L370.41,318.23 L371.44,318.04 L372.47,317.85 L373.50,317.66 L374.54,317.46 L375.57,317.27 L376.60,317.06 L377.63,316.86 L378.67,316.66 L379.70,316.45 L380.73,316.24 L381.77,316.02 L382.80,315.81 L383.83,315.59 L384.86,315.37 L385.90,315.14 L386.93,314.92 L387.96,314.69 L388.99,314.46 L390.03,314.22 L391.06,313.99 L392.09,313.75 L393.13,313.51 L394.16,313.26 L395.19,313.01 L396.22,312.76 L397.26,312.51 L398.29,312.26 L399.32,312.00 L400.35,311.74 L401.39,311.48 L402.42,311.21 L403.45,310.94 L404.48,310.67 L405.52,310.40 L406.55,310.12 L407.58,309.84 L408.62,309.56 L409.65,309.28 L410.68,308.99 L411.71,308.70 L412.75,308.41 L413.78,308.12 L414.81,307.82 L415.84,307.52 L416.88,307.22 L417.91,306.92 L418.94,306.61 L419.98,306.30 L421.01,305.99 L422.04,305.67 L423.07,305.36 L424.11,305.04 L425.14,304.71 L426.17,304.39 L427.20,304.06 L428.24,303.73 L429.27,303.40 L430.30,303.06 L431.34,302.72 L432.37,302.38 L433.40,302.04 L434.43,301.70 L435.47,301.35 L436.50,301.00 L437.53,300.64 L438.56,300.29 L439.60,299.93 L440.63,299.57 L441.66,299.21 L442.69,298.84 L443.73,298.47 L444.76,298.10 L445.79,297.73 L446.83,297.35 L447.86,296.98 L448.89,296.60 L449.92,296.21 L450.96,295.83 L451.99,295.44 L453.02,295.05 L454.05,294.65 L455.09,294.26 L456.12,293.86 L457.15,293.46 L458.19,293.06 L459.22,292.65 L460.25,292.24 L461.28,291.83 L462.32,291.42 L463.35,291.00 L464.38,290.58 L465.41,290.16 L466.45,289.74 L467.48,289.31 L468.51,288.88 L469.54,288.45 L470.58,288.02 L471.61,287.58 L472.64,287.14 L473.68,286.70 L474.71,286.26 L475.74,285.81 L476.77,285.36 L477.81,284.91 L478.84,284.46 L479.87,284.00 L480.90,283.54 L481.94,283.08 L482.97,282.62 L484.00,282.15 L485.04,281.68 L486.07,281.21 L487.10,280.73 L488.13,280.25 L489.17,279.77 L490.20,279.29 L491.23,278.81 L492.26,278.32 L493.30,277.83 L494.33,277.34 L495.36,276.84 L496.40,276.34 L497.43,275.84 L498.46,275.34 L499.49,274.83 L500.53,274.32 L501.56,273.81 L502.59,273.30 L503.62,272.78 L504.66,272.26 L505.69,271.74 L506.72,271.22 L507.75,270.69 L508.79,270.16 L509.82,269.63 L510.85,269.10 L511.89,268.56 L512.92,268.02 L513.95,267.48 L514.98,266.93 L516.02,266.39 L517.05,265.84 L518.08,265.28 L519.11,264.73 L520.15,264.17 L521.18,263.61 L522.21,263.05 L523.25,262.49 L524.28,261.92 L525.31,261.35 L526.34,260.78 L527.38,260.20 L528.41,259.63 L529.44,259.05 L530.47,258.46 L531.51,257.88 L532.54,257.29 L533.57,256.71 L534.61,256.12 L535.64,255.52 L536.67,254.93 L537.70,254.33 L538.74,253.73 L539.77,253.13 L540.80,252.52 L541.83,251.92 L542.87,251.31 L543.90,250.70 L544.93,250.08 L545.96,249.47 L547.00,248.85 L548.03,248.23 L549.06,247.61 L550.10,246.99 L551.13,246.36 L552.16,245.73 L553.19,245.11 L554.23,244.47 L555.26,243.84 L556.29,243.21 L557.32,242.57 L558.36,241.93 L559.39,241.29 L560.42,240.65 L561.46,240.01 L562.49,239.36 L563.52,238.72 L564.55,238.07 L565.59,237.42 L566.62,236.77 L567.65,236.12 L568.68,235.46 L569.72,234.81 L570.75,234.15 L571.78,233.49 L572.81,232.84 L573.85,232.18 L574.88,231.51 L575.91,230.85 L576.95,230.19 L577.98,229.52 L579.01,228.86 L580.04,228.19 L581.08,227.53 L582.11,226.86 L583.14,226.19 L584.17,225.52 L585.21,224.85 L586.24,224.18 L587.27,223.51 L588.31,222.84 L589.34,222.16 L590.37,221.49 L591.40,220.82 L592.44,220.14 L593.47,219.47 L594.50,218.80 L595.53,218.12 L596.57,217.45 L597.60,216.78 L598.63,216.10 L599.67,215.43 L600.70,214.75 L601.73,214.08 L602.76,213.41 L603.80,212.74 L604.83,212.07 L605.86,211.40 L606.89,210.73 L607.93,210.06 L608.96,209.39 L609.99,208.72 L611.02,208.06 L612.06,207.39 L613.09,206.73 L614.12,206.06 L615.16,205.40 L616.19,204.74 L617.22,204.09 L618.25,203.43 L619.29,202.78 L620.32,202.13 L621.35,201.48 L622.38,200.83 L623.42,200.18 L624.45,199.54 L625.48,198.90 L626.52,198.26 L627.55,197.63 L628.58,197.00 L629.61,196.37 L630.65,195.75 L631.68,195.12 L632.71,194.51 L633.74,193.89 L634.78,193.28 L635.81,192.68 L636.84,192.08 L637.88,191.48 L638.91,190.89 L639.94,190.30 L640.97,189.71 L642.01,189.14 L643.04,188.56 L644.07,187.99 L645.10,187.43 L646.14,186.88 L647.17,186.32 L648.20,185.78 L649.23,185.24 L650.27,184.71 L651.30,184.18 L652.33,183.67 L653.37,183.15 L654.40,182.65 L655.43,182.15 L656.46,181.66 L657.50,181.18 L658.53,180.71 L659.56,180.24 L660.59,179.78 L661.63,179.34 L662.66,178.90 L663.69,178.46 L664.73,178.04 L665.76,177.63 L666.79,177.22 L667.82,176.83 L668.86,176.44 L669.89,176.07 L670.92,175.70 L671.95,175.34 L672.99,175.00 L674.02,174.66 L675.05,174.33 L676.09,174.02 L677.12,173.71 L678.15,173.42 L679.18,173.13 L680.22,172.86 L681.25,172.59 L682.28,172.34 L683.31,172.09 L684.35,171.86 L685.38,171.63 L686.41,171.42 L687.44,171.21 L688.48,171.02 L689.51,170.83 L690.54,170.66 L691.58,170.49 L692.61,170.33 L693.64,170.18 L694.67,170.04 L695.71,169.91 L696.74,169.78 L697.77,169.67 L698.80,169.56 L699.84,169.46 L700.87,169.36 L701.90,169.27 L702.94,169.19 L703.97,169.11 L705.00,169.04 L706.03,168.98 L707.07,168.92 L708.10,168.87 L709.13,168.82 L710.16,168.77 L711.20,168.73 L712.23,168.69 L713.26,168.66 L714.29,168.63 L715.33,168.60 L716.36,168.58 L717.39,168.56 L718.43,168.54 L719.46,168.52 L720.49,168.51 L721.52,168.49 L722.56,168.48 L723.59,168.47 L724.62,168.46 L725.65,168.46 L726.69,168.45 L727.72,168.45" stroke="#ff0000" stroke-width="5.3" stroke-linecap="square"/>
<path d="M108.10,351.22 L109.13,350.85 L110.17,350.48 L111.20,350.12 L112.23,349.75 L113.26,349.38 L114.30,349.01 L115.33,348.64 L116.36,348.27 L117.39,347.90 L118.43,347.53 L119.46,347.16 L120.49,346.79 L121.53,346.42 L122.56,346.04 L123.59,345.67 L124.62,345.30 L125.66,344.93 L126.69,344.56 L127.72,344.18 L128.75,343.81 L129.79,343.44 L130.82,343.06 L131.85,342.69 L132.88,342.32 L133.92,341.94 L134.95,341.57 L135.98,341.20 L137.02,340.82 L138.05,340.45 L139.08,340.07 L140.11,339.70 L141.15,339.32 L142.18,338.95 L143.21,338.57 L144.24,338.20 L145.28,337.82 L146.31,337.44 L147.34,337.07 L148.38,336.69 L149.41,336.32 L150.44,335.94 L151.47,335.56 L152.51,335.19 L153.54,334.81 L154.57,334.43 L155.60,334.06 L156.64,333.68 L157.67,333.30 L158.70,332.92 L159.73,332.55 L160.77,332.17 L161.80,331.79 L162.83,331.41 L163.87,331.03 L164.90,330.66 L165.93,330.28 L166.96,329.90 L168.00,329.52 L169.03,329.14 L170.06,328.77 L171.09,328.39 L172.13,328.01 L173.16,327.63 L174.19,327.25 L175.23,326.87 L176.26,326.49 L177.29,326.11 L178.32,325.73 L179.36,325.35 L180.39,324.97 L181.42,324.60 L182.45,324.22 L183.49,323.84 L184.52,323.46 L185.55,323.08 L186.59,322.70 L187.62,322.32 L188.65,321.94 L189.68,321.56 L190.72,321.18 L191.75,320.80 L192.78,320.42 L193.81,320.04 L194.85,319.66 L195.88,319.28 L196.91,318.90 L197.94,318.52 L198.98,318.13 L200.01,317.75 L201.04,317.37 L202.08,316.99 L203.11,316.61 L204.14,316.23 L205.17,315.85 L206.21,315.47 L207.24,315.09 L208.27,314.71 L209.30,314.33 L210.34,313.95 L211.37,313.56 L212.40,313.18 L213.44,312.80 L214.47,312.42 L215.50,312.04 L216.53,311.66 L217.57,311.28 L218.60,310.90 L219.63,310.51 L220.66,310.13 L221.70,309.75 L222.73,309.37 L223.76,308.99 L224.80,308.61 L225.83,308.23 L226.86,307.84 L227.89,307.46 L228.93,307.08 L229.96,306.70 L230.99,306.32 L232.02,305.93 L233.06,305.55 L234.09,305.17 L235.12,304.79 L236.15,304.41 L237.19,304.02 L238.22,303.64 L239.25,303.26 L240.29,302.88 L241.32,302.50 L242.35,302.11 L243.38,301.73 L244.42,301.35 L245.45,300.97 L246.48,300.58 L247.51,300.20 L248.55,299.82 L249.58,299.44 L250.61,299.05 L251.65,298.67 L252.68,298.29 L253.71,297.91 L254.74,297.52 L255.78,297.14 L256.81,296.76 L257.84,296.38 L258.87,295.99 L259.91,295.61 L260.94,295.23 L261.97,294.84 L263.00,294.46 L264.04,294.08 L265.07,293.70 L266.10,293.31 L267.14,292.93 L268.17,292.55 L269.20,292.16 L270.23,291.78 L271.27,291.40 L272.30,291.01 L273.33,290.63 L274.36,290.25 L275.40,289.86 L276.43,289.48 L277.46,289.10 L278.50,288.71 L279.53,288.33 L280.56,287.95 L281.59,287.56 L282.63,287.18 L283.66,286.79 L284.69,286.41 L285.72,286.03 L286.76,285.64 L287.79,285.26 L288.82,284.87 L289.86,284.49 L290.89,284.11 L291.92,283.72 L292.95,283.34 L293.99,282.95 L295.02,282.57 L296.05,282.18 L297.08,281.80 L298.12,281.41 L299.15,281.03 L300.18,280.65 L301.21,280.26 L302.25,279.88 L303.28,279.49 L304.31,279.11 L305.35,278.72 L306.38,278.34 L307.41,277.95 L308.44,277.56 L309.48,277.18 L310.51,276.79 L311.54,276.41 L312.57,276.02 L313.61,275.64 L314.64,275.25 L315.67,274.87 L316.71,274.48 L317.74,274.09 L318.77,273.71 L319.80,273.32 L320.84,272.93 L321.87,272.55 L322.90,272.16 L323.93,271.77 L324.97,271.39 L326.00,271.00 L327.03,270.61 L328.07,270.23 L329.10,269.84 L330.13,269.45 L331.16,269.06 L332.20,268.68 L333.23,268.29 L334.26,267.90 L335.29,267.51 L336.33,267.12 L337.36,266.74 L338.39,266.35 L339.42,265.96 L340.46,265.57 L341.49,265.18 L342.52,264.79 L343.56,264.40 L344.59,264.01 L345.62,263.62 L346.65,263.24 L347.69,262.85 L348.72,262.46 L349.75,262.07 L350.78,261.67 L351.82,261.28 L352.85,260.89 L353.88,260.50 L354.92,260.11 L355.95,259.72 L356.98,259.33 L358.01,258.94 L359.05,258.54 L360.08,258.15 L361.11,257.76 L362.14,257.37 L363.18,256.97 L364.21,256.58 L365.24,256.19 L366.27,255.79 L367.31,255.40 L368.34,255.01 L369.37,254.61 L370.41,254.22 L371.44,253.82 L372.47,253.43 L373.50,253.03 L374.54,252.63 L375.57,252.24 L376.60,251.84 L377.63,251.45 L378.67,251.05 L379.70,250.65 L380.73,250.25 L381.77,249.85 L382.80,249.46 L383.83,249.06 L384.86,248.66 L385.90,248.26 L386.93,247.86 L387.96,247.46 L388.99,247.06 L390.03,246.66 L391.06,246.25 L392.09,245.85 L393.13,245.45 L394.16,245.05 L395.19,244.64 L396.22,244.24 L397.26,243.84 L398.29,243.43 L399.32,243.03 L400.35,242.62 L401.39,242.21 L402.42,241.81 L403.45,241.40 L404.48,240.99 L405.52,240.58 L406.55,240.18 L407.58,239.77 L408.62,239.36 L409.65,238.95 L410.68,238.54 L411.71,238.12 L412.75,237.71 L413.78,237.30 L414.81,236.89 L415.84,236.47 L416.88,236.06 L417.91,235.64 L418.94,235.22 L419.98,234.81 L421.01,234.39 L422.04,233.97 L423.07,233.55 L424.11,233.13 L425.14,232.71 L426.17,232.29 L427.20,231.87 L428.24,231.45 L429.27,231.02 L430.30,230.60 L431.34,230.17 L432.37,229.75 L433.40,229.32 L434.43,228.89 L435.47,228.47 L436.50,228.04 L437.53,227.61 L438.56,227.17 L439.60,226.74 L440.63,226.31 L441.66,225.88 L442.69,225.44 L443.73,225.01 L444.76,224.57 L445.79,224.13 L446.83,223.69 L447.86,223.25 L448.89,222.81 L449.92,222.37 L450.96,221.93 L451.99,221.48 L453.02,221.04 L454.05,220.59 L455.09,220.15 L456.12,219.70 L457.15,219.25 L458.19,218.80 L459.22,218.35 L460.25,217.90 L461.28,217.44 L462.32,216.99 L463.35,216.53 L464.38,216.07 L465.41,215.62 L466.45,215.16 L467.48,214.70 L468.51,214.24 L469.54,213.77 L470.58,213.31 L471.61,212.85 L472.64,212.38 L473.68,211.91 L474.71,211.45 L475.74,210.98 L476.77,210.51 L477.81,210.04 L478.84,209.56 L479.87,209.09 L480.90,208.62 L481.94,208.14 L482.97,207.66 L484.00,207.19 L485.04,206.71 L486.07,206.23 L487.10,205.75 L488.13,205.27 L489.17,204.78 L490.20,204.30 L491.23,203.82 L492.26,203.33 L493.30,202.85 L494.33,202.36 L495.36,201.87 L496.40,201.39 L497.43,200.90 L498.46,200.41 L499.49,199.92 L500.53,199.43 L501.56,198.94 L502.59,198.45 L503.62,197.96 L504.66,197.47 L505.69,196.97 L506.72,196.48 L507.75,195.99 L508.79,195.50 L509.82,195.01 L510.85,194.51 L511.89,194.02 L512.92,193.53 L513.95,193.04 L514.98,192.55 L516.02,192.06 L517.05,191.57 L518.08,191.08 L519.11,190.60 L520.15,190.11 L521.18,189.62 L522.21,189.14 L523.25,188.66 L524.28,188.17 L525.31,187.69 L526.34,187.22 L527.38,186.74 L528.41,186.26 L529.44,185.79 L530.47,185.32 L531.51,184.85 L532.54,184.39 L533.57,183.92 L534.61,183.46 L535.64,183.00 L536.67,182.55 L537.70,182.10 L538.74,181.65 L539.77,181.21 L540.80,180.77 L541.83,180.33 L542.87,179.90 L543.90,179.47 L544.93,179.05 L545.96,178.63 L547.00,178.21 L548.03,177.80 L549.06,177.40 L550.10,177.00 L551.13,176.61 L552.16,176.22 L553.19,175.84 L554.23,175.47 L555.26,175.10 L556.29,174.74 L557.32,174.38 L558.36,174.03 L559.39,173.69 L560.42,173.36 L561.46,173.03 L562.49,172.71 L563.52,172.40 L564.55,172.10 L565.59,171.80 L566.62,171.52 L567.65,171.24 L568.68,170.97 L569.72,170.71 L570.75,170.45 L571.78,170.21 L572.81,169.98 L573.85,169.75 L574.88,169.53 L575.91,169.32 L576.95,169.12 L577.98,168.93 L579.01,168.75 L580.04,168.58 L581.08,168.41 L582.11,168.26 L583.14,168.11 L584.17,167.97 L585.21,167.84 L586.24,167.72 L587.27,167.61 L588.31,167.50 L589.34,167.41 L590.37,167.32 L591.40,167.23 L592.44,167.16 L593.47,167.09 L594.50,167.03 L595.53,166.98 L596.57,166.93 L597.60,166.89 L598.63,166.85 L599.67,166.82 L600.70,166.79 L601.73,166.77 L602.76,166.75 L603.80,166.74 L604.83,166.73 L605.86,166.73 L606.89,166.73 L607.93,166.73 L608.96,166.73 L609.99,166.74 L611.02,166.75 L612.06,166.77 L613.09,166.78 L614.12,166.80 L615.16,166.82 L616.19,166.84 L617.22,166.86 L618.25,166.88 L619.29,166.90 L620.32,166.93 L621.35,166.95 L622.38,166.98 L623.42,167.00 L624.45,167.03 L625.48,167.06 L626.52,167.08 L627.55,167.11 L628.58,167.14 L629.61,167.16 L630.65,167.19 L631.68,167.22 L632.71,167.24 L633.74,167.27 L634.78,167.30 L635.81,167.32 L636.84,167.35 L637.88,167.37 L638.91,167.40 L639.94,167.42 L640.97,167.45 L642.01,167.47 L643.04,167.49 L644.07,167.51 L645.10,167.54 L646.14,167.56 L647.17,167.58 L648.20,167.60 L649.23,167.62 L650.27,167.64 L651.30,167.66 L652.33,167.68 L653.37,167.70 L654.40,167.72 L655.43,167.74 L656.46,167.76 L657.50,167.77 L658.53,167.79 L659.56,167.81 L660.59,167.82 L661.63,167.84 L662.66,167.86 L663.69,167.87 L664.73,167.89 L665.76,167.90 L666.79,167.92 L667.82,167.93 L668.86,167.94 L669.89,167.96 L670.92,167.97 L671.95,167.98 L672.99,168.00 L674.02,168.01 L675.05,168.02 L676.09,168.03 L677.12,168.04 L678.15,168.06 L679.18,168.07 L680.22,168.08 L681.25,168.09 L682.28,168.10 L683.31,168.11 L684.35,168.12 L685.38,168.13 L686.41,168.14 L687.44,168.15 L688.48,168.16 L689.51,168.17 L690.54,168.17 L691.58,168.18 L692.61,168.19 L693.64,168.20 L694.67,168.21 L695.71,168.21 L696.74,168.22 L697.77,168.23 L698.80,168.24 L699.84,168.24 L700.87,168.25 L701.90,168.26 L702.94,168.26 L703.97,168.27 L705.00,168.28 L706.03,168.28 L707.07,168.29 L708.10,168.29 L709.13,168.30 L710.16,168.31 L711.20,168.31 L712.23,168.32 L713.26,168.32 L714.29,168.33 L715.33,168.33 L716.36,168.34 L717.39,168.34 L718.43,168.35 L719.46,168.35 L720.49,168.36 L721.52,168.36 L722.56,168.36 L723.59,168.37 L724.62,168.37 L725.65,168.38 L726.69,168.38 L727.72,168.38" stroke="#00aa00" stroke-width="5.3" stroke-linecap="square"/>
<path d="M108.10,275.42 L109.13,275.04 L110.17,274.66 L111.20,274.27 L112.23,273.89 L113.26,273.51 L114.30,273.13 L115.33,272.74 L116.36,272.36 L117.39,271.98 L118.43,271.60 L119.46,271.22 L120.49,270.83 L121.53,270.45 L122.56,270.07 L123.59,269.69 L124.62,269.30 L125.66,268.92 L126.69,268.54 L127.72,268.16 L128.75,267.77 L129.79,267.39 L130.82,267.01 L131.85,266.63 L132.88,266.25 L133.92,265.86 L134.95,265.48 L135.98,265.10 L137.02,264.72 L138.05,264.33 L139.08,263.95 L140.11,263.57 L141.15,263.19 L142.18,262.80 L143.21,262.42 L144.24,262.04 L145.28,261.66 L146.31,261.28 L147.34,260.89 L148.38,260.51 L149.41,260.13 L150.44,259.75 L151.47,259.36 L152.51,258.98 L153.54,258.60 L154.57,258.22 L155.60,257.83 L156.64,257.45 L157.67,257.07 L158.70,256.69 L159.73,256.30 L160.77,255.92 L161.80,255.54 L162.83,255.16 L163.87,254.78 L164.90,254.39 L165.93,254.01 L166.96,253.63 L168.00,253.25 L169.03,252.86 L170.06,252.48 L171.09,252.10 L172.13,251.72 L173.16,251.33 L174.19,250.95 L175.23,250.57 L176.26,250.19 L177.29,249.80 L178.32,249.42 L179.36,249.04 L180.39,248.66 L181.42,248.27 L182.45,247.89 L183.49,247.51 L184.52,247.13 L185.55,246.74 L186.59,246.36 L187.62,245.98 L188.65,245.60 L189.68,245.21 L190.72,244.83 L191.75,244.45 L192.78,244.07 L193.81,243.68 L194.85,243.30 L195.88,242.92 L196.91,242.54 L197.94,242.15 L198.98,241.77 L200.01,241.39 L201.04,241.01 L202.08,240.62 L203.11,240.24 L204.14,239.86 L205.17,239.48 L206.21,239.09 L207.24,238.71 L208.27,238.33 L209.30,237.95 L210.34,237.56 L211.37,237.18 L212.40,236.80 L213.44,236.42 L214.47,236.03 L215.50,235.65 L216.53,235.27 L217.57,234.89 L218.60,234.50 L219.63,234.12 L220.66,233.74 L221.70,233.35 L222.73,232.97 L223.76,232.59 L224.80,232.21 L225.83,231.82 L226.86,231.44 L227.89,231.06 L228.93,230.68 L229.96,230.29 L230.99,229.91 L232.02,229.53 L233.06,229.14 L234.09,228.76 L235.12,228.38 L236.15,228.00 L237.19,227.61 L238.22,227.23 L239.25,226.85 L240.29,226.46 L241.32,226.08 L242.35,225.70 L243.38,225.32 L244.42,224.93 L245.45,224.55 L246.48,224.17 L247.51,223.78 L248.55,223.40 L249.58,223.02 L250.61,222.63 L251.65,222.25 L252.68,221.87 L253.71,221.48 L254.74,221.10 L255.78,220.72 L256.81,220.33 L257.84,219.95 L258.87,219.57 L259.91,219.19 L260.94,218.80 L261.97,218.42 L263.00,218.04 L264.04,217.65 L265.07,217.27 L266.10,216.89 L267.14,216.50 L268.17,216.12 L269.20,215.73 L270.23,215.35 L271.27,214.97 L272.30,214.58 L273.33,214.20 L274.36,213.82 L275.40,213.43 L276.43,213.05 L277.46,212.67 L278.50,212.28 L279.53,211.90 L280.56,211.52 L281.59,211.13 L282.63,210.75 L283.66,210.36 L284.69,209.98 L285.72,209.60 L286.76,209.21 L287.79,208.83 L288.82,208.44 L289.86,208.06 L290.89,207.68 L291.92,207.29 L292.95,206.91 L293.99,206.52 L295.02,206.14 L296.05,205.76 L297.08,205.37 L298.12,204.99 L299.15,204.60 L300.18,204.22 L301.21,203.83 L302.25,203.45 L303.28,203.06 L304.31,202.68 L305.35,202.30 L306.38,201.91 L307.41,201.53 L308.44,201.14 L309.48,200.76 L310.51,200.37 L311.54,199.99 L312.57,199.60 L313.61,199.22 L314.64,198.83 L315.67,198.45 L316.71,198.06 L317.74,197.68 L318.77,197.29 L319.80,196.91 L320.84,196.52 L321.87,196.14 L322.90,195.75 L323.93,195.37 L324.97,194.98 L326.00,194.60 L327.03,194.21 L328.07,193.83 L329.10,193.44 L330.13,193.06 L331.16,192.67 L332.20,192.29 L333.23,191.90 L334.26,191.52 L335.29,191.13 L336.33,190.75 L337.36,190.36 L338.39,189.98 L339.42,189.59 L340.46,189.21 L341.49,188.82 L342.52,188.43 L343.56,188.05 L344.59,187.66 L345.62,187.28 L346.65,186.89 L347.69,186.51 L348.72,186.12 L349.75,185.74 L350.78,185.35 L351.82,184.97 L352.85,184.58 L353.88,184.20 L354.92,183.82 L355.95,183.43 L356.98,183.05 L358.01,182.66 L359.05,182.28 L360.08,181.89 L361.11,181.51 L362.14,181.13 L363.18,180.74 L364.21,180.36 L365.24,179.98 L366.27,179.59 L367.31,179.21 L368.34,178.83 L369.37,178.45 L370.41,178.06 L371.44,177.68 L372.47,177.30 L373.50,176.92 L374.54,176.54 L375.57,176.16 L376.60,175.78 L377.63,175.40 L378.67,175.02 L379.70,174.64 L380.73,174.27 L381.77,173.89 L382.80,173.51 L383.83,173.13 L384.86,172.76 L385.90,172.38 L386.93,172.01 L387.96,171.63 L388.99,171.26 L390.03,170.89 L391.06,170.52 L392.09,170.15 L393.13,169.78 L394.16,169.41 L395.19,169.04 L396.22,168.68 L397.26,168.31 L398.29,167.95 L399.32,167.58 L400.35,167.22 L401.39,166.86 L402.42,166.50 L403.45,166.14 L404.48,165.79 L405.52,165.43 L406.55,165.08 L407.58,164.73 L408.62,164.38 L409.65,164.03 L410.68,163.68 L411.71,163.34 L412.75,163.00 L413.78,162.66 L414.81,162.32 L415.84,161.99 L416.88,161.65 L417.91,161.32 L418.94,161.00 L419.98,160.67 L421.01,160.35 L422.04,160.03 L423.07,159.71 L424.11,159.40 L425.14,159.09 L426.17,158.79 L427.20,158.48 L428.24,158.19 L429.27,157.89 L430.30,157.60 L431.34,157.31 L432.37,157.03 L433.40,156.75 L434.43,156.48 L435.47,156.21 L436.50,155.94 L437.53,155.68 L438.56,155.43 L439.60,155.18 L440.63,154.93 L441.66,154.70 L442.69,154.46 L443.73,154.23 L444.76,154.01 L445.79,153.80 L446.83,153.59 L447.86,153.39 L448.89,153.19 L449.92,153.00 L450.96,152.82 L451.99,152.64 L453.02,152.47 L454.05,152.31 L455.09,152.16 L456.12,152.01 L457.15,151.87 L458.19,151.74 L459.22,151.62 L460.25,151.51 L461.28,151.40 L462.32,151.30 L463.35,151.22 L464.38,151.13 L465.41,151.06 L466.45,151.00 L467.48,150.95 L468.51,150.90 L469.54,150.86 L470.58,150.83 L471.61,150.82 L472.64,150.81 L473.68,150.80 L474.71,150.81 L475.74,150.83 L476.77,150.85 L477.81,150.89 L478.84,150.93 L479.87,150.98 L480.90,151.04 L481.94,151.10 L482.97,151.18 L484.00,151.26 L485.04,151.35 L486.07,151.45 L487.10,151.55 L488.13,151.66 L489.17,151.78 L490.20,151.90 L491.23,152.03 L492.26,152.17 L493.30,152.31 L494.33,152.45 L495.36,152.60 L496.40,152.76 L497.43,152.92 L498.46,153.08 L499.49,153.25 L500.53,153.42 L501.56,153.59 L502.59,153.77 L503.62,153.94 L504.66,154.13 L505.69,154.31 L506.72,154.49 L507.75,154.68 L508.79,154.86 L509.82,155.05 L510.85,155.24 L511.89,155.43 L512.92,155.61 L513.95,155.80 L514.98,155.99 L516.02,156.18 L517.05,156.36 L518.08,156.55 L519.11,156.74 L520.15,156.92 L521.18,157.10 L522.21,157.29 L523.25,157.47 L524.28,157.65 L525.31,157.83 L526.34,158.00 L527.38,158.18 L528.41,158.35 L529.44,158.52 L530.47,158.69 L531.51,158.86 L532.54,159.03 L533.57,159.19 L534.61,159.35 L535.64,159.51 L536.67,159.67 L537.70,159.83 L538.74,159.98 L539.77,160.13 L540.80,160.28 L541.83,160.43 L542.87,160.58 L543.90,160.72 L544.93,160.87 L545.96,161.01 L547.00,161.14 L548.03,161.28 L549.06,161.42 L550.10,161.55 L551.13,161.68 L552.16,161.81 L553.19,161.93 L554.23,162.06 L555.26,162.18 L556.29,162.30 L557.32,162.42 L558.36,162.54 L559.39,162.65 L560.42,162.77 L561.46,162.88 L562.49,162.99 L563.52,163.09 L564.55,163.20 L565.59,163.31 L566.62,163.41 L567.65,163.51 L568.68,163.61 L569.72,163.71 L570.75,163.80 L571.78,163.90 L572.81,163.99 L573.85,164.08 L574.88,164.17 L575.91,164.26 L576.95,164.34 L577.98,164.43 L579.01,164.51 L580.04,164.59 L581.08,164.67 L582.11,164.75 L583.14,164.83 L584.17,164.91 L585.21,164.98 L586.24,165.05 L587.27,165.13 L588.31,165.20 L589.34,165.27 L590.37,165.33 L591.40,165.40 L592.44,165.47 L593.47,165.53 L594.50,165.59 L595.53,165.65 L596.57,165.72 L597.60,165.77 L598.63,165.83 L599.67,165.89 L600.70,165.95 L601.73,166.00 L602.76,166.05 L603.80,166.11 L604.83,166.16 L605.86,166.21 L606.89,166.26 L607.93,166.31 L608.96,166.36 L609.99,166.40 L611.02,166.45 L612.06,166.49 L613.09,166.54 L614.12,166.58 L615.16,166.62 L616.19,166.67 L617.22,166.71 L618.25,166.75 L619.29,166.78 L620.32,166.82 L621.35,166.86 L622.38,166.90 L623.42,166.93 L624.45,166.97 L625.48,167.00 L626.52,167.04 L627.55,167.07 L628.58,167.10 L629.61,167.13 L630.65,167.16 L631.68,167.19 L632.71,167.22 L633.74,167.25 L634.78,167.28 L635.81,167.31 L636.84,167.34 L637.88,167.36 L638.91,167.39 L639.94,167.41 L640.97,167.44 L642.01,167.46 L643.04,167.49 L644.07,167.51 L645.10,167.53 L646.14,167.56 L647.17,167.58 L648.20,167.60 L649.23,167.62 L650.27,167.64 L651.30,167.66 L652.33,167.68 L653.37,167.70 L654.40,167.72 L655.43,167.74 L656.46,167.76 L657.50,167.77 L658.53,167.79 L659.56,167.81 L660.59,167.82 L661.63,167.84 L662.66,167.86 L663.69,167.87 L664.73,167.89 L665.76,167.90 L666.79,167.92 L667.82,167.93 L668.86,167.94 L669.89,167.96 L670.92,167.97 L671.95,167.98 L672.99,168.00 L674.02,168.01 L675.05,168.02 L676.09,168.03 L677.12,168.04 L678.15,168.06 L679.18,168.07 L680.22,168.08 L681.25,168.09 L682.28,168.10 L683.31,168.11 L684.35,168.12 L685.38,168.13 L686.41,168.14 L687.44,168.15 L688.48,168.16 L689.51,168.17 L690.54,168.17 L691.58,168.18 L692.61,168.19 L693.64,168.20 L694.67,168.21 L695.71,168.21 L696.74,168.22 L697.77,168.23 L698.80,168.24 L699.84,168.24 L700.87,168.25 L701.90,168.26 L702.94,168.26 L703.97,168.27 L705.00,168.28 L706.03,168.28 L707.07,168.29 L708.10,168.29 L709.13,168.30 L710.16,168.31 L711.20,168.31 L712.23,168.32 L713.26,168.32 L714.29,168.33 L715.33,168.33 L716.36,168.34 L717.39,168.34 L718.43,168.35 L719.46,168.35 L720.49,168.36 L721.52,168.36 L722.56,168.36 L723.59,168.37 L724.62,168.37 L725.65,168.38 L726.69,168.38 L727.72,168.38" stroke="#800080" stroke-width="5.3" stroke-linecap="square"/>
</g>
<path d="M211.37,398.45v-7.5M314.64,398.45v-7.5M417.91,398.45v-7.5M521.18,398.45v-7.5M624.45,398.45v-7.5M108.10,321.45h7.5M108.10,245.00h7.5M108.10,168.55h7.5M108.10,92.10h7.5" stroke="#000" stroke-width="3" fill="none"/>
<rect x="108.10" y="15.55" width="619.62" height="382.90" fill="none" stroke="#000" stroke-width="3.2"/>
<text x="88.70" y="432.50" font-size="24.7"><tspan visibility="hidden">1</tspan>0<tspan font-size="17.5" dy="-9.9">0</tspan></text><path d="M763 0H583V1147Q518 1085 412.5 1023T223 930V1104Q374 1175 487 1276T647 1472H763Z" transform="translate(88.70,432.50) scale(0.01206,-0.01206)"/>
<text x="191.97" y="432.50" font-size="24.7"><tspan visibility="hidden">1</tspan>0<tspan font-size="17.5" dy="-9.9"><tspan visibility="hidden">1</tspan></tspan></text><path d="M763 0H583V1147Q518 1085 412.5 1023T223 930V1104Q374 1175 487 1276T647 1472H763Z" transform="translate(191.97,432.50) scale(0.01206,-0.01206)"/><path d="M763 0H583V1147Q518 1085 412.5 1023T223 930V1104Q374 1175 487 1276T647 1472H763Z" transform="translate(219.44,422.60) scale(0.00854,-0.00854)"/>
<text x="295.24" y="432.50" font-size="24.7"><tspan visibility="hidden">1</tspan>0<tspan font-size="17.5" dy="-9.9">2</tspan></text><path d="M763 0H583V1147Q518 1085 412.5 1023T223 930V1104Q374 1175 487 1276T647 1472H763Z" transform="translate(295.24,432.50) scale(0.01206,-0.01206)"/>
<text x="398.51" y="432.50" font-size="24.7"><tspan visibility="hidden">1</tspan>0<tspan font-size="17.5" dy="-9.9">3</tspan></text><path d="M763 0H583V1147Q518 1085 412.5 1023T223 930V1104Q374 1175 487 1276T647 1472H763Z" transform="translate(398.51,432.50) scale(0.01206,-0.01206)"/>
<text x="501.78" y="432.50" font-size="24.7"><tspan visibility="hidden">1</tspan>0<tspan font-size="17.5" dy="-9.9">4</tspan></text><path d="M763 0H583V1147Q518 1085 412.5 1023T223 930V1104Q374 1175 487 1276T647 1472H763Z" transform="translate(501.78,432.50) scale(0.01206,-0.01206)"/>
<text x="605.05" y="432.50" font-size="24.7"><tspan visibility="hidden">1</tspan>0<tspan font-size="17.5" dy="-9.9">5</tspan></text><path d="M763 0H583V1147Q518 1085 412.5 1023T223 930V1104Q374 1175 487 1276T647 1472H763Z" transform="translate(605.05,432.50) scale(0.01206,-0.01206)"/>
<text x="708.32" y="432.50" font-size="24.7"><tspan visibility="hidden">1</tspan>0<tspan font-size="17.5" dy="-9.9">6</tspan></text><path d="M763 0H583V1147Q518 1085 412.5 1023T223 930V1104Q374 1175 487 1276T647 1472H763Z" transform="translate(708.32,432.50) scale(0.01206,-0.01206)"/>
<text x="49.82" y="407.20" font-size="24.7"><tspan visibility="hidden">1</tspan>0<tspan font-size="17.5" dy="-9.6">−<tspan visibility="hidden">1</tspan></tspan></text><path d="M763 0H583V1147Q518 1085 412.5 1023T223 930V1104Q374 1175 487 1276T647 1472H763Z" transform="translate(49.82,407.20) scale(0.01206,-0.01206)"/><path d="M763 0H583V1147Q518 1085 412.5 1023T223 930V1104Q374 1175 487 1276T647 1472H763Z" transform="translate(87.52,397.60) scale(0.00854,-0.00854)"/>
<text x="60.04" y="330.75" font-size="24.7"><tspan visibility="hidden">1</tspan>0<tspan font-size="17.5" dy="-9.6">0</tspan></text><path d="M763 0H583V1147Q518 1085 412.5 1023T223 930V1104Q374 1175 487 1276T647 1472H763Z" transform="translate(60.04,330.75) scale(0.01206,-0.01206)"/>
<text x="60.04" y="254.30" font-size="24.7"><tspan visibility="hidden">1</tspan>0<tspan font-size="17.5" dy="-9.6"><tspan visibility="hidden">1</tspan></tspan></text><path d="M763 0H583V1147Q518 1085 412.5 1023T223 930V1104Q374 1175 487 1276T647 1472H763Z" transform="translate(60.04,254.30) scale(0.01206,-0.01206)"/><path d="M763 0H583V1147Q518 1085 412.5 1023T223 930V1104Q374 1175 487 1276T647 1472H763Z" transform="translate(87.52,244.70) scale(0.00854,-0.00854)"/>
<text x="60.04" y="177.85" font-size="24.7"><tspan visibility="hidden">1</tspan>0<tspan font-size="17.5" dy="-9.6">2</tspan></text><path d="M763 0H583V1147Q518 1085 412.5 1023T223 930V1104Q374 1175 487 1276T647 1472H763Z" transform="translate(60.04,177.85) scale(0.01206,-0.01206)"/>
<text x="60.04" y="101.40" font-size="24.7"><tspan visibility="hidden">1</tspan>0<tspan font-size="17.5" dy="-9.6">3</tspan></text><path d="M763 0H583V1147Q518 1085 412.5 1023T223 930V1104Q374 1175 487 1276T647 1472H763Z" transform="translate(60.04,101.40) scale(0.01206,-0.01206)"/>
<text x="60.04" y="24.95" font-size="24.7"><tspan visibility="hidden">1</tspan>0<tspan font-size="17.5" dy="-9.6">4</tspan></text><path d="M763 0H583V1147Q518 1085 412.5 1023T223 930V1104Q374 1175 487 1276T647 1472H763Z" transform="translate(60.04,24.95) scale(0.01206,-0.01206)"/>
<text x="291.0" y="481.8" font-size="24.7">Fourier Frequency / Hz</text>
<text transform="translate(25.4,283.7) rotate(-90)" font-size="24.7">ASD / Hz/rtHz</text>
<text x="208.05" y="48.6" font-size="24.7">Uncorrected Laser</text>
<text x="248.6" y="191.3" font-size="24.7"><tspan visibility="hidden">1</tspan>0km</text><path d="M763 0H583V1147Q518 1085 412.5 1023T223 930V1104Q374 1175 487 1276T647 1472H763Z" transform="translate(248.60,191.30) scale(0.01206,-0.01206)"/>
<text x="489.0" y="230.7" font-size="24.7"><tspan visibility="hidden">1</tspan>km</text><path d="M763 0H583V1147Q518 1085 412.5 1023T223 930V1104Q374 1175 487 1276T647 1472H763Z" transform="translate(489.00,230.70) scale(0.01206,-0.01206)"/>
<text x="480.9" y="320.9" font-size="24.7"><tspan visibility="hidden">1</tspan>00m</text><path d="M763 0H583V1147Q518 1085 412.5 1023T223 930V1104Q374 1175 487 1276T647 1472H763Z" transform="translate(480.90,320.90) scale(0.01206,-0.01206)"/>
<text x="644.6" y="280.9" font-size="24.7"><tspan visibility="hidden">1</tspan>0m</text><path d="M763 0H583V1147Q518 1085 412.5 1023T223 930V1104Q374 1175 487 1276T647 1472H763Z" transform="translate(644.60,280.90) scale(0.01206,-0.01206)"/>
<text x="650.2" y="104.6" font-size="24.7">Line</text>
<text x="622.9" y="104.6" font-size="24.7" font-style="italic">β</text>
<rect x="637.3" y="96.9" width="11.6" height="2.3" fill="#000"/>
</svg></body></html>
